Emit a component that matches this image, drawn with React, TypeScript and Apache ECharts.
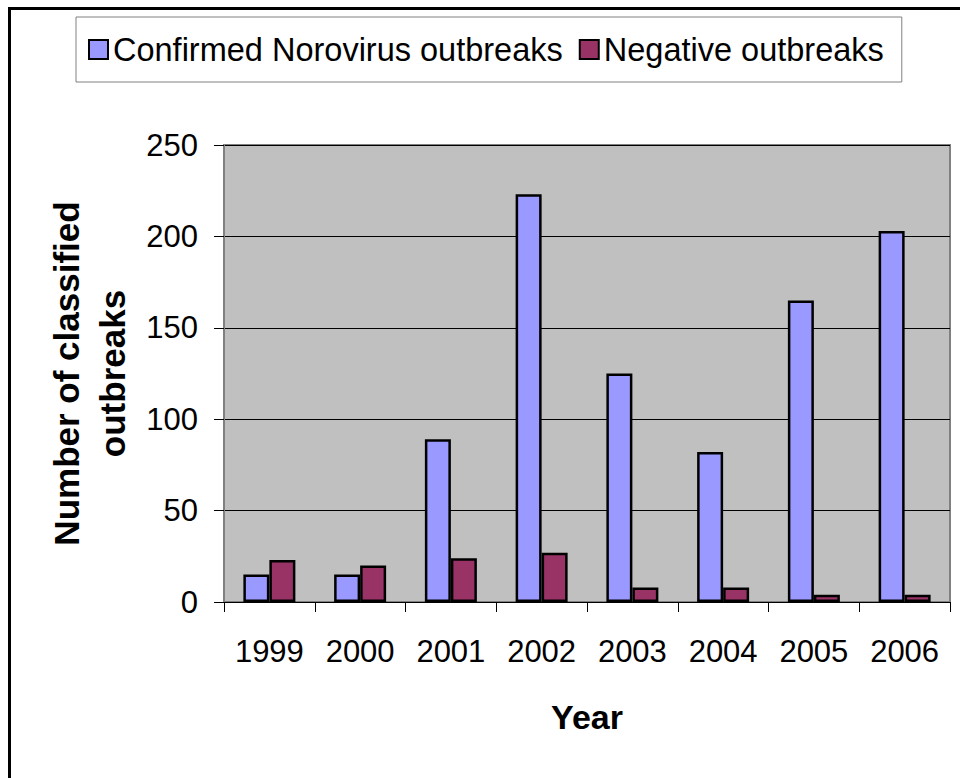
import React, { useEffect, useRef } from "react";
import * as echarts from "echarts";

const years = ["1999", "2000", "2001", "2002", "2003", "2004", "2005", "2006"];
const confirmed = [15, 15, 89, 223, 125, 82, 165, 203];
const negative = [23, 20, 24, 27, 8, 8, 4, 4];
const seriesNames = ["Confirmed Norovirus outbreaks", "Negative outbreaks"];
const yMin = 0;
const yMax = 250;
const yInterval = 50;

const FONT = "'Liberation Sans', Arial, Helvetica, sans-serif";

export default function App() {
  const ref = useRef<HTMLDivElement>(null);
  useEffect(() => {
    if (!ref.current) return;
    const chart = echarts.init(ref.current, null, { renderer: "svg" });
    chart.setOption({
      animation: false,
      backgroundColor: "#ffffff",
      textStyle: { fontFamily: FONT, color: "#000" },
      graphic: [
        {
          type: "rect",
          silent: true,
          z: -10,
          shape: { x: 9.5, y: 8.5, width: 1000, height: 1000 },
          style: { fill: "none", stroke: "#000", lineWidth: 3 },
        },
      ],
      legend: {
        left: 76,
        top: 17,
        padding: [16, 18, 16, 12],
        borderColor: "#808080",
        borderWidth: 1,
        backgroundColor: "#ffffff",
        icon: "rect",
        itemWidth: 19,
        itemHeight: 19,
        itemGap: 16,
        itemStyle: { borderColor: "#000", borderWidth: 2 },
        textStyle: { fontSize: 32.5, lineHeight: 32, color: "#000", fontFamily: FONT },
        data: seriesNames,
      },
      grid: {
        left: 224,
        right: 10,
        top: 145,
        bottom: 176,
        show: true,
        backgroundColor: "#C0C0C0",
        borderColor: "#808080",
        borderWidth: 2,
      },
      xAxis: {
        type: "category",
        data: years,
        name: "Year",
        nameLocation: "middle",
        nameGap: 98,
        nameTextStyle: { fontSize: 34, fontWeight: "bold", color: "#000", fontFamily: FONT },
        axisLine: { show: true, lineStyle: { color: "#000", width: 1 } },
        axisTick: { show: true, alignWithLabel: false, length: 10, lineStyle: { color: "#000" } },
        axisLabel: { fontSize: 31, color: "#000", margin: 34, fontFamily: FONT },
        splitLine: { show: false },
      },
      yAxis: {
        type: "value",
        min: yMin,
        max: yMax,
        interval: yInterval,
        name: "Number of classified\noutbreaks",
        nameLocation: "middle",
        nameRotate: 90,
        nameGap: 88,
        nameTextStyle: {
          fontSize: 35,
          fontWeight: "bold",
          color: "#000",
          lineHeight: 46,
          align: "center",
          fontFamily: FONT,
        },
        axisLine: { show: true, lineStyle: { color: "#808080", width: 2 } },
        axisTick: { show: true, length: 10, lineStyle: { color: "#000" } },
        axisLabel: { fontSize: 31, color: "#000", margin: 26, fontFamily: FONT },
        splitLine: { show: true, lineStyle: { color: "#000", width: 1 } },
      },
      series: [
        {
          name: seriesNames[0],
          type: "bar",
          data: confirmed,
          barWidth: 26,
          barGap: "0%",
          itemStyle: { color: "#9999FF", borderColor: "#000", borderWidth: 2.5 },
        },
        {
          name: seriesNames[1],
          type: "bar",
          data: negative,
          barWidth: 26,
          barGap: "0%",
          itemStyle: { color: "#993366", borderColor: "#000", borderWidth: 2.5 },
        },
      ],
    });
    return () => chart.dispose();
  }, []);
  return (
    <div
      ref={ref}
      style={{ position: "fixed", left: 0, top: 0, width: 960, height: 778 }}
    />
  );
}
